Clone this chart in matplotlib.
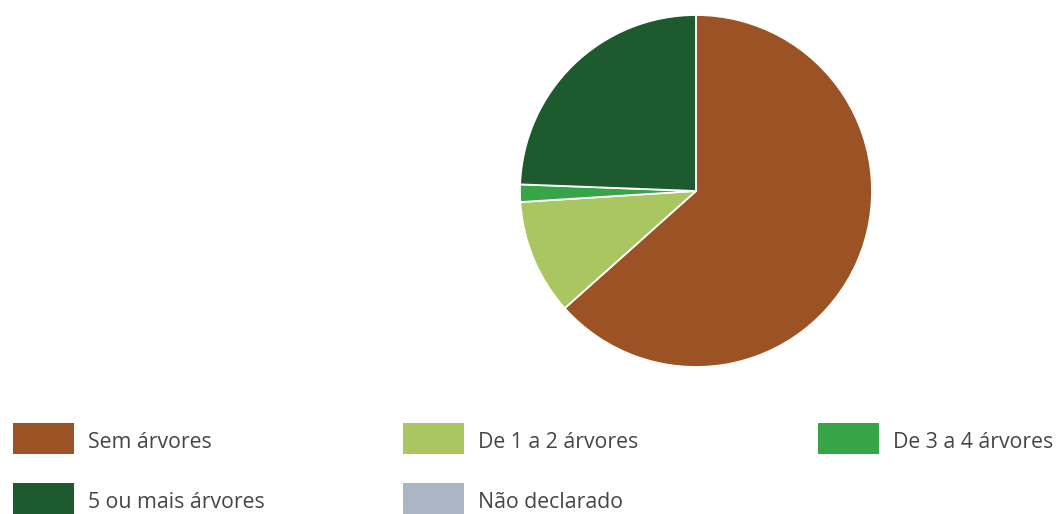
import matplotlib.pyplot as plt
from matplotlib.patches import Rectangle

# dados do gráfico (% de domicílios)
categorias = ["Sem árvores", "De 1 a 2 árvores", "De 3 a 4 árvores",
              "5 ou mais árvores", "Não declarado"]
valores = [63.4, 10.6, 1.6, 24.4, 0.0]
cores = ["#9b5225", "#aac660", "#37a447", "#1d5a2d", "#aab6c3"]

W, H = 1063, 514
fig = plt.figure(figsize=(W / 100, H / 100), dpi=100)

# pizza: centro (696, 191) px, raio 176 px
cx, cy, r = 696, 191, 176
ax = fig.add_axes([(cx - r) / W, (H - cy - r) / H, 2 * r / W, 2 * r / H])
ax.pie(valores, colors=cores, startangle=90, counterclock=False,
       wedgeprops=dict(edgecolor="white", linewidth=1.3))
ax.set_xlim(-1, 1)
ax.set_ylim(-1, 1)
ax.set_aspect("equal")
ax.axis("off")

# legenda em grade de 3 colunas
col_x = [13, 403, 818]
lin_y = [438, 498]
sw_w, sw_h = 61, 31
for i, (nome, cor) in enumerate(zip(categorias, cores)):
    x = col_x[i % 3]
    y = lin_y[i // 3]
    fig.add_artist(Rectangle((x / W, (H - y - sw_h / 2) / H), sw_w / W, sw_h / H,
                             transform=fig.transFigure, facecolor=cor,
                             edgecolor="none"))
    fig.text((x + sw_w + 14) / W, (H - y - 4) / H, nome, fontsize=15.3,
             family="Open Sans", color="#454545", va="center", ha="left")

fig.savefig("out.png", dpi=100)
